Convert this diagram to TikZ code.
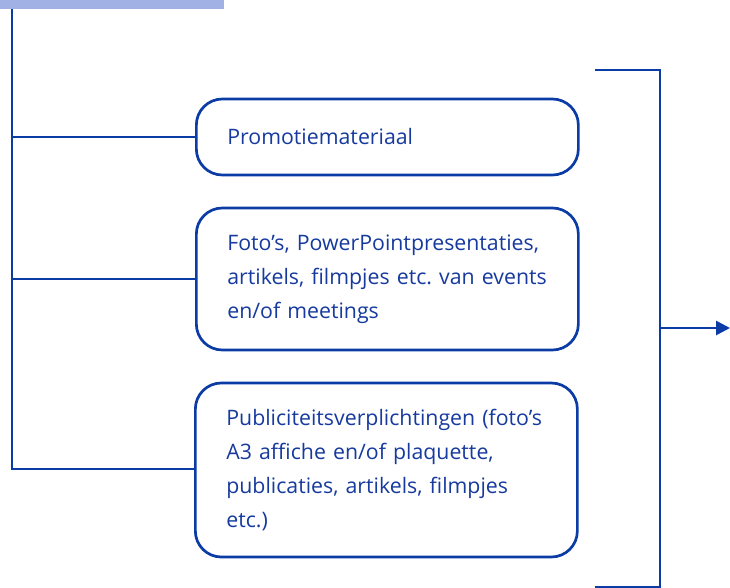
\documentclass[tikz,border=0pt]{standalone}
\usepackage{fontspec}
\setmainfont{Open Sans}
\usepackage{tikz}
\usetikzlibrary{arrows.meta, positioning, calc}
\definecolor{accent}{HTML}{0B3CA6}
\definecolor{textblue}{HTML}{163A9E}
\definecolor{barblue}{HTML}{A1B1E6}
\frenchspacing

\begin{document}
\begin{tikzpicture}[
    x=1pt, y=-1pt,
    itembox/.style={draw=accent, line width=2.7pt, rounded corners=26pt, fill=white, anchor=west, minimum width=382pt, minimum height=#1, text width=320pt, inner xsep=31pt, align=left, text=textblue, font=\fontsize{21.3}{33.8}\selectfont},
    link/.style={draw=accent, line width=2.7pt},
    arrow/.style={-{Triangle[length=14pt, width=14pt]}, line width=2.7pt, color=accent}
]
\useasboundingbox (0,0) rectangle (730,588);
\fill[barblue] (0,0) rectangle (224,9.5);
\coordinate (spinetop) at (12,9.5);
\coordinate (spinebot) at (12,469);

\node[itembox=76pt] (promo) at (195,137) {Promotiemateriaal};
\node[itembox=142pt] (foto) at (195,279) {Foto’s, PowerPointpresentaties,\\ artikels, filmpjes etc. van events\\ en/of meetings};
\node[itembox=174pt] (publ) at (194,470) {Publiciteitsverplichtingen (foto’s\\ A3 affiche en/of plaquette,\\ publicaties, artikels, filmpjes\\ etc.)};

\draw[link] (spinetop) -- (spinebot) -- (spinebot -| publ.west);
\draw[link] (spinetop |- promo.west) -- (promo.west);
\draw[link] (spinetop |- foto.west) -- (foto.west);

\coordinate (bracktop) at (595,70);
\coordinate (brackbot) at (595,587);
\coordinate (out) at (730,328);
\draw[link] (bracktop) -- ++(65,0) -- ++(0,517) -- (brackbot);
\draw[arrow] (660,328) -- (out);
\end{tikzpicture}
\end{document}
